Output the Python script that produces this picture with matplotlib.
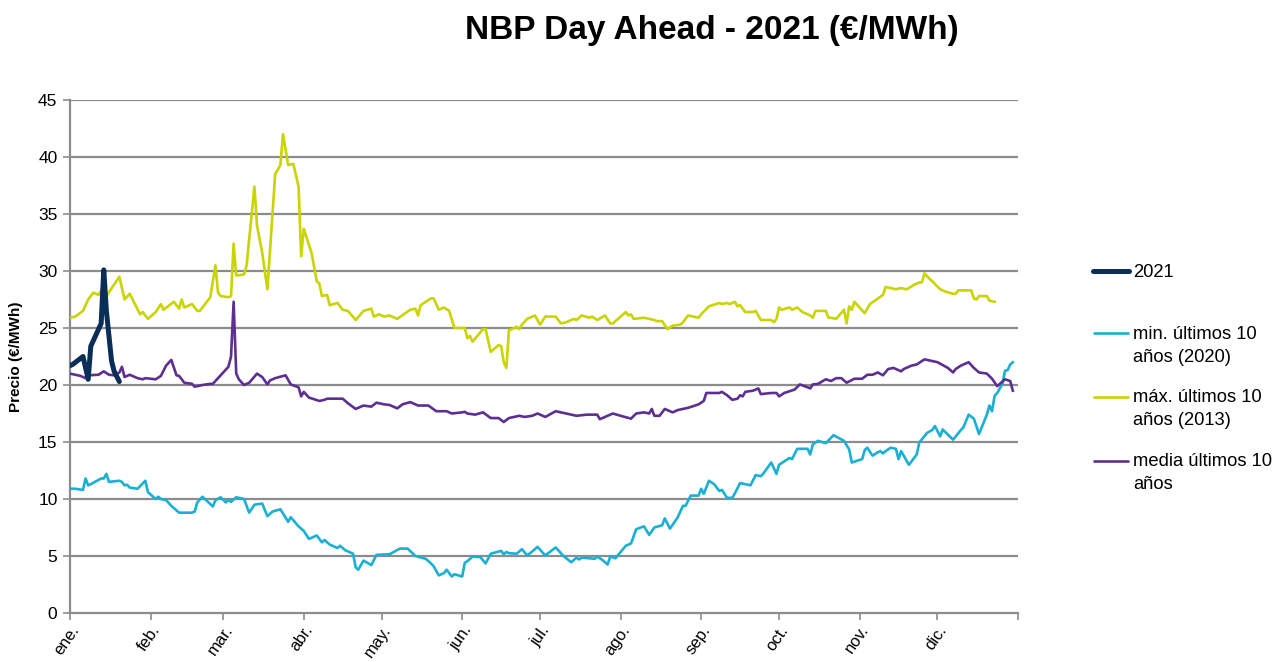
import matplotlib
matplotlib.use("Agg")
import matplotlib.pyplot as plt
from matplotlib.lines import Line2D

plt.rcParams['font.family'] = ['Liberation Sans', 'DejaVu Sans']

# ---------------- data (day of year, €/MWh) ----------------
month_labels = ["ene.", "feb.", "mar.", "abr.", "may.", "jun.", "jul.", "ago.", "sep.", "oct.", "nov.", "dic."]
month_starts = [0, 31, 59, 90, 120, 151, 181, 212, 243, 273, 304, 334, 365]

y2021_days = [0, 1, 5, 7, 8, 10, 12, 13, 14, 16, 17, 19]
y2021_vals = [21.7, 21.8, 22.5, 20.5, 23.4, 24.4, 25.4, 30.1, 26.5, 22.1, 21.2, 20.3]

max_days = [0, 2, 5, 7, 9, 11, 12, 14, 19, 21, 23, 25, 27, 28, 30, 33, 35, 36, 40, 42, 43, 44, 47, 49, 50,
            54, 56, 57, 58, 61, 62, 63, 64, 67, 68, 71, 72, 74, 76, 79, 81, 82, 84, 86, 88, 89, 90, 93, 95,
            96, 97, 99, 100, 103, 105, 107, 110, 113, 116, 117, 119, 121, 123, 126, 131, 133, 134, 135, 137,
            139, 140, 142, 144, 146, 148, 152, 153, 154, 155, 159, 160, 162, 165, 166, 167, 168, 169, 172,
            173, 174, 176, 179, 181, 183, 187, 189, 191, 194, 195, 197, 200, 201, 203, 206, 208, 209, 214,
            215, 216, 217, 221, 225, 226, 228, 230, 232, 235, 236, 238, 242, 243, 246, 250, 251, 253, 254,
            256, 257, 258, 260, 263, 264, 266, 270, 271, 272, 273, 274, 277, 278, 280, 282, 285, 286, 287,
            291, 292, 293, 295, 298, 299, 300, 301, 302, 304, 306, 308, 313, 314, 316, 318, 320, 322, 323,
            325, 327, 328, 329, 331, 332, 335, 337, 340, 341, 342, 347, 348, 349, 350, 353, 354, 356]
max_vals = [25.9, 26.0, 26.5, 27.5, 28.1, 27.9, 28.3, 27.8, 29.5, 27.5, 28.0, 27.1, 26.2, 26.4, 25.8, 26.4,
            27.1, 26.6, 27.3, 26.7, 27.5, 26.8, 27.1, 26.5, 26.5,
            27.7, 30.5, 28.1, 27.8, 27.7, 27.8, 32.4, 29.6, 29.7, 30.5, 37.4, 34.0, 31.6, 28.4, 38.5, 39.3,
            42.0, 39.3, 39.4, 37.4, 31.3, 33.7, 31.6, 29.1,
            28.9, 27.8, 27.9, 27.0, 27.2, 26.6, 26.5, 25.7, 26.5, 26.7, 26.0, 26.2, 26.0, 26.1, 25.8, 26.6,
            26.7, 26.1, 27.0, 27.3,
            27.6, 27.6, 26.6, 26.8, 26.5, 25.0, 25.0, 24.1, 24.3, 23.8, 24.9, 24.9, 22.9, 23.5, 23.4, 22.0,
            21.5, 24.8, 25.1,
            24.9, 25.3, 25.8, 26.1, 25.3, 26.0, 26.0, 25.4, 25.5, 25.8, 25.7, 26.1, 25.9, 26.0, 25.7, 26.1,
            25.4, 25.4, 26.4,
            26.1, 26.2, 25.8, 25.9, 25.7, 25.6, 25.6, 24.9, 25.2, 25.3, 25.5, 26.1, 25.9, 26.2, 26.9, 27.2,
            27.1, 27.2, 27.1,
            27.3, 26.9, 27.0, 26.4, 26.4, 26.5, 25.7, 25.7, 25.5, 25.8, 26.8, 26.6, 26.8, 26.6, 26.8, 26.4,
            26.1, 25.9, 26.5,
            26.5, 25.9, 25.9, 25.8, 26.6, 25.4, 26.9, 26.6, 27.3, 26.8, 26.3, 27.1, 27.9, 28.6, 28.5, 28.4,
            28.5, 28.4, 28.5,
            28.8, 29.0, 29.0, 29.8, 29.3, 29.1, 28.4, 28.2, 28.0, 28.0, 28.3, 28.3, 27.6, 27.5, 27.8, 27.8,
            27.4, 27.3]

mean_days = [0, 2, 4, 6, 7, 11, 13, 15, 17, 19, 20, 21, 23, 26, 28, 29, 33, 35, 37, 39, 41, 42, 44, 47, 48,
             51, 54, 55, 57, 58, 61, 62, 63, 64, 65, 67, 69, 72, 74, 76, 77, 79, 83, 85, 88, 89, 90, 92, 96,
             98, 99, 105, 107, 110, 113, 116, 118, 121, 123, 126, 128, 131, 134, 138, 141, 145, 147, 151,
             152, 153, 156, 159, 162, 165, 167, 169, 173, 175, 178, 180, 183, 187, 191, 195, 199, 203, 204,
             209, 212, 216, 218, 221, 223, 224, 225, 227, 229, 232, 234, 238, 242, 244, 245, 250, 251, 253,
             255, 257, 258, 259, 260, 263, 265, 266, 270, 272, 273, 275, 279, 281, 284, 285, 286, 288, 291,
             293, 295, 297, 299, 302, 305, 307, 309, 311, 313, 315, 317, 320, 321, 324, 326, 329, 332, 334,
             338, 340, 341, 343, 346, 348, 350, 353, 355, 357, 359, 360, 362, 363]
mean_vals = [21.0, 20.9, 20.8, 20.6, 20.85, 20.9, 21.2, 20.9, 20.85, 21.1, 21.6, 20.7, 20.9, 20.6, 20.5,
             20.6, 20.5, 20.8, 21.7, 22.2, 20.85, 20.8, 20.2, 20.1, 19.85,
             20.0, 20.1, 20.1, 20.6, 20.85, 21.6, 22.5, 27.3, 21.0, 20.5, 20.0, 20.2, 21.0, 20.7, 20.05,
             20.4, 20.6, 20.85, 20.05, 19.8, 19.0, 19.4, 18.9, 18.6,
             18.7, 18.8, 18.8, 18.4, 17.9, 18.2, 18.1, 18.45, 18.3, 18.25, 17.95, 18.3, 18.5, 18.2, 18.2,
             17.7, 17.7, 17.5, 17.6,
             17.65, 17.5, 17.4, 17.6, 17.1, 17.1, 16.75, 17.1, 17.3, 17.2, 17.3, 17.5, 17.2, 17.7, 17.5,
             17.3, 17.4, 17.4, 17.0,
             17.5, 17.3, 17.05, 17.5, 17.6, 17.5, 17.9, 17.3, 17.3, 17.9, 17.6, 17.8, 18.0, 18.3, 18.6,
             19.3, 19.3, 19.4, 19.1,
             18.7, 18.8, 19.1, 19.0, 19.4, 19.5, 19.7, 19.2, 19.3, 19.3, 19.0, 19.3, 19.6, 20.05, 19.8, 19.7,
             20.05, 20.1, 20.5,
             20.35, 20.6, 20.6, 20.2, 20.55, 20.55, 20.9, 20.9, 21.1, 20.85, 21.4, 21.5, 21.2, 21.4, 21.7,
             21.8, 22.25, 22.1, 22.0,
             21.5, 21.1, 21.4, 21.7, 22.0, 21.5, 21.1, 21.0, 20.55, 19.9, 20.3, 20.5, 20.35, 19.5]

min_days = [0, 2, 5, 6, 7, 8, 12, 13, 14, 15, 19, 20, 21, 22, 23, 26, 29, 30, 33, 34, 35, 37, 39, 42, 47,
            48, 49, 51, 55, 56, 58, 60, 61, 62, 64, 67, 69, 71, 74, 76, 78, 81, 84, 85, 88, 90, 92, 95, 97,
            98, 100, 103, 104, 106, 109, 110, 111, 113, 116, 118, 123, 125, 127, 130, 133, 137, 139, 140,
            142, 144, 145, 147, 148, 151, 152, 153, 155, 158, 160, 162, 166, 167, 168, 169, 172, 174, 176,
            178, 180, 183, 187, 190, 193, 195, 196, 197, 200, 202, 203, 205, 207, 208, 210, 214, 216, 218,
            221, 223, 225, 228, 229, 231, 234, 236, 237, 239, 242, 243, 244, 246, 248, 250, 251, 253, 255,
            256, 258, 262, 264, 266, 267, 270, 272, 273, 277, 278, 280, 284, 285, 286, 288, 291, 294, 298,
            300, 301, 305, 306, 307, 309, 311, 312, 313, 314, 316, 318, 319, 320, 321, 323, 326, 327, 330,
            332, 333, 335, 336, 340, 343, 344, 346, 348, 350, 353, 354, 355, 356, 357, 359, 360, 361, 362,
            363]
min_vals = [10.9, 10.9, 10.8, 11.8, 11.2, 11.3, 11.8, 11.8, 12.2, 11.5, 11.6, 11.5, 11.2, 11.25, 11.0,
            10.9, 11.6, 10.6, 10.0, 10.2, 10.0, 9.9, 9.4, 8.8, 8.8,
            8.9, 9.7, 10.2, 9.35, 9.9, 10.15, 9.7, 9.9, 9.75, 10.15, 10.0, 8.8, 9.5, 9.6, 8.5, 8.9, 9.1, 8.0,
            8.4, 7.6, 7.2, 6.5, 6.8, 6.2,
            6.4, 6.0, 5.7, 5.9, 5.5, 5.2, 4.0, 3.8, 4.6, 4.2, 5.1, 5.15, 5.4, 5.65, 5.65, 5.0, 4.75, 4.35,
            4.1,
            3.3, 3.5, 3.8, 3.2, 3.4, 3.2, 4.4, 4.55, 4.95, 4.9, 4.35, 5.2, 5.45, 5.15, 5.35, 5.25, 5.2, 5.6,
            5.05,
            5.4, 5.8, 5.05, 5.75, 5.0, 4.45, 4.85, 4.7, 4.85, 4.8, 4.75, 4.95, 4.65, 4.25, 4.95, 4.8, 5.9,
            6.1, 7.35,
            7.6, 6.85, 7.5, 7.7, 8.3, 7.4, 8.4, 9.4, 9.4, 10.3, 10.3, 10.9, 10.45, 11.6, 11.3, 10.7, 10.8,
            10.1, 10.1,
            10.5, 11.4, 11.2, 12.1, 12.0, 12.25, 13.2, 12.2, 13.0, 13.6, 13.5, 14.4, 14.4, 13.9, 14.8, 15.1,
            14.9, 15.6, 15.1,
            14.35, 13.2, 13.5, 14.3, 14.5, 13.8, 14.1, 14.2, 14.0, 14.2, 14.5, 14.4, 13.5, 14.2, 13.8, 13.0,
            13.9, 14.95, 15.8,
            16.05, 16.4, 15.5, 16.1, 15.2, 16.05, 16.3, 17.4, 17.05, 15.7, 17.4, 18.2, 17.7, 19.05, 19.3,
            20.1, 21.25, 21.3, 21.8,
            22.0]

series_labels = ["2021", "min. últimos 10\naños (2020)", "máx. últimos 10\naños (2013)", "media últimos 10\naños"]
colors = ["#0a2e57", "#1ab0d3", "#c9d400", "#5e2f93"]

# ---------------- figure ----------------
fig = plt.figure(figsize=(12.76, 6.62), dpi=100)
ax = fig.add_axes([70 / 1276, 1 - 613 / 662, (1018 - 70) / 1276, (613 - 100) / 662])

grid_c = "#8c8c8c"
for yv in range(5, 50, 5):
    ax.axhline(yv, color=grid_c, lw=1.6, zorder=1)

ax.plot(min_days, min_vals, color=colors[1], lw=1.9, zorder=3, solid_joinstyle='round')
ax.plot(max_days, max_vals, color=colors[2], lw=1.9, zorder=3, solid_joinstyle='round')
ax.plot(mean_days, mean_vals, color=colors[3], lw=1.9, zorder=3, solid_joinstyle='round')
ax.plot(y2021_days, y2021_vals, color=colors[0], lw=3.6, zorder=4, solid_joinstyle='round',
        solid_capstyle='round')

ax.set_xlim(0, 365)
ax.set_ylim(0, 45)
ax.set_yticks(range(0, 50, 5))
ax.tick_params(axis='y', length=5, width=1.2, color=grid_c, labelsize=12.5, pad=4)
ax.set_xticks(month_starts)
ax.set_xticklabels(month_labels + [""], rotation=55, ha='right', va='top', rotation_mode='anchor')
ax.tick_params(axis='x', length=5, width=1.2, color=grid_c, labelsize=12, pad=2)

for s in ['top', 'right']:
    ax.spines[s].set_visible(False)
for s in ['left', 'bottom']:
    ax.spines[s].set_color(grid_c)
    ax.spines[s].set_linewidth(1.6)

ax.set_ylabel("Precio (€/MWh)", fontsize=11, fontweight='bold', labelpad=8)
ax.yaxis.set_label_coords(-0.05, 0.5)

fig.text(712 / 1276, 1 - 30 / 662, "NBP Day Ahead - 2021 (€/MWh)", ha='center', va='center',
         fontsize=24, fontweight='bold')

# legend (manual, to match the spacing of the original)
leg_line_y = [270.7, 333.3, 396.7, 460.7]
line_gap = 22.5
for lab, col, yl in zip(series_labels, colors, leg_line_y):
    lw = 3.6 if lab == "2021" else 1.9
    fig.add_artist(Line2D([1093 / 1276, 1129 / 1276], [1 - yl / 662, 1 - yl / 662],
                          color=col, lw=lw, solid_capstyle='round' if lab == "2021" else 'butt'))
    n_extra = lab.count("\n")
    fig.text(1133 / 1276, 1 - (yl + 6 + line_gap * n_extra) / 662, lab, ha='left', va='baseline',
             fontsize=13.2, linespacing=1.45)

fig.savefig("out.png", dpi=100)
